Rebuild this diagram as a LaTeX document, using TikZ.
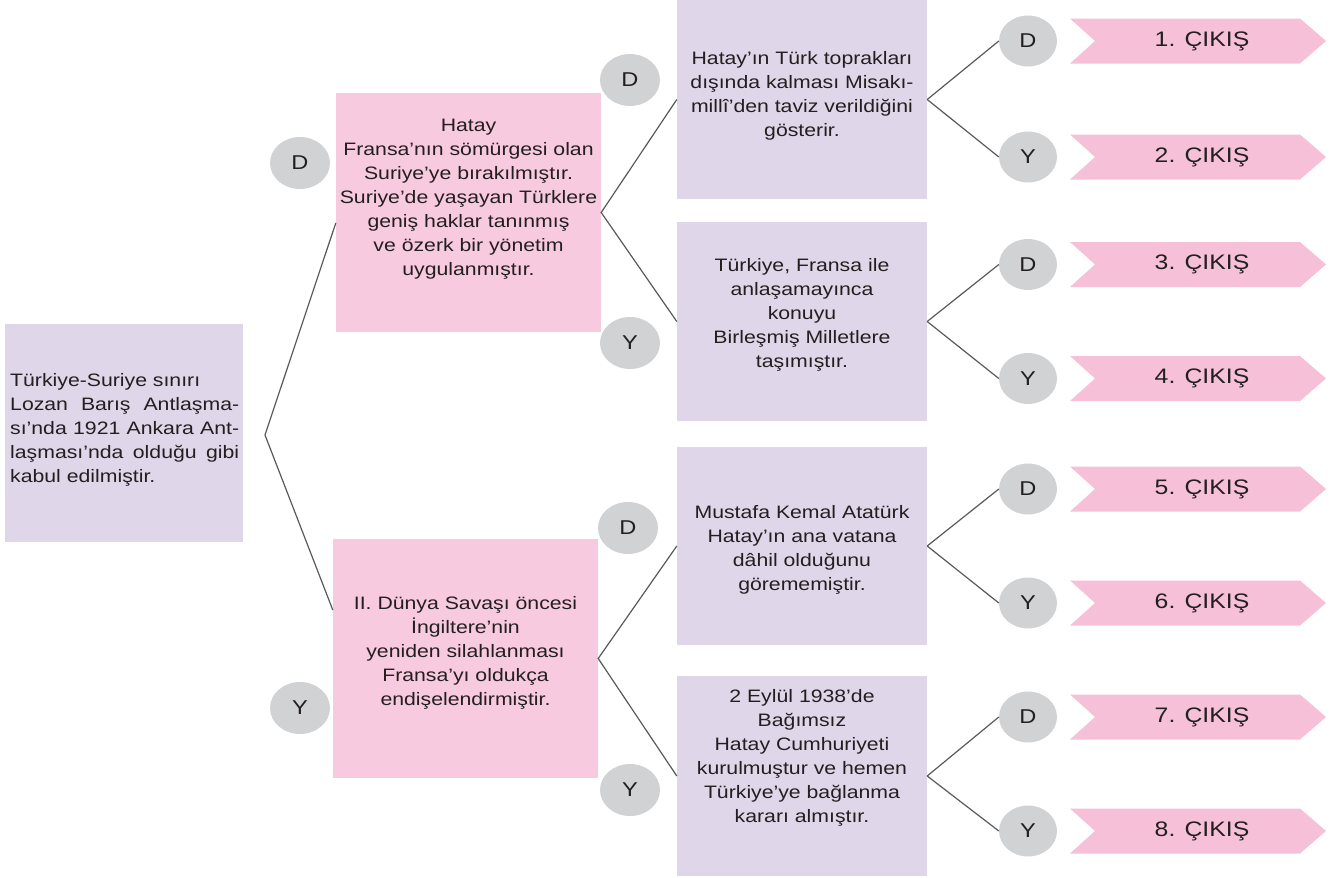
\documentclass[tikz,border=0pt]{standalone}
\usepackage{fontspec}
\setmainfont{Liberation Sans}[FakeStretch=1.18]
\usetikzlibrary{shapes.geometric}
\definecolor{lav}{RGB}{223,214,233}
\definecolor{pnk}{RGB}{248,202,223}
\definecolor{chev}{RGB}{245,192,216}
\definecolor{circ}{RGB}{209,210,212}
\definecolor{ink}{RGB}{35,31,32}
\definecolor{lin}{RGB}{88,89,91}
\begin{document}
\begin{tikzpicture}[x=1pt,y=-1pt,
  every node/.style={font=\fontsize{18}{24}\selectfont, text=ink, inner sep=0pt},
  lavbox/.style={rectangle, fill=lav},
  pinkbox/.style={rectangle, fill=pnk},
  ctext/.style={align=center},
  yn/.style={ellipse, fill=circ, minimum width=60pt, minimum height=52pt, font=\fontsize{20}{24}\selectfont},
  yn3/.style={ellipse, fill=circ, minimum width=58pt, minimum height=51pt, font=\fontsize{20}{24}\selectfont},
  outtxt/.style={font=\fontsize{21}{24}\selectfont},
  conn/.style={draw=lin, line width=1.2pt}]
\useasboundingbox (0,0) rectangle (1339,878);

% root
\node[lavbox, minimum width=238pt, minimum height=218pt] (root) at (124,433) {};
\node[anchor=west, align=left] (roott) at (10,430) {Türkiye-Suriye sınırı\\
\makebox[229pt][s]{Lozan Barış Antlaşma-}\\
\makebox[229pt][s]{sı’nda 1921 Ankara Ant-}\\
\makebox[229pt][s]{laşması’nda olduğu gibi}\\
kabul edilmiştir.};
\coordinate (rv) at (265,435);

% level 1
\node[pinkbox, minimum width=265pt, minimum height=239pt] (b1) at (468.5,212.5) {};
\node[ctext] (b1t) at (468.5,199) {Hatay\\ Fransa’nın sömürgesi olan\\ Suriye’ye bırakılmıştır.\\ Suriye’de yaşayan Türklere\\ geniş haklar tanınmış\\ ve özerk bir yönetim\\ uygulanmıştır.};
\node[pinkbox, minimum width=265pt, minimum height=239pt] (b2) at (465.5,658.5) {};
\node[ctext] (b2t) at (465.5,653) {II. Dünya Savaşı öncesi\\ İngiltere’nin\\ yeniden silahlanması\\ Fransa’yı oldukça\\ endişelendirmiştir.};

\node[yn] (d1) at (300,163) {D};
\node[yn] (y1) at (300,708) {Y};

\draw[conn] ([yshift=-10.5pt]b1.west) -- (rv) -- ([yshift=48.5pt]b2.west);

% level 2
\node[lavbox, minimum width=250pt, minimum height=199pt] (bA) at (802,99.5) {};
\node[ctext] (bAt) at (802,96) {Hatay’ın Türk toprakları\\ dışında kalması Misakı-\\ millî’den taviz verildiğini\\ gösterir.};
\node[lavbox, minimum width=250pt, minimum height=199pt] (bB) at (802,321.5) {};
\node[ctext] (bBt) at (802,315) {Türkiye, Fransa ile\\ anlaşamayınca\\ konuyu\\ Birleşmiş Milletlere\\ taşımıştır.};
\node[lavbox, minimum width=250pt, minimum height=198pt] (bC) at (802,546) {};
\node[ctext] (bCt) at (802,550) {Mustafa Kemal Atatürk\\ Hatay’ın ana vatana\\ dâhil olduğunu\\ görememiştir.};
\node[lavbox, minimum width=250pt, minimum height=200pt] (bD) at (802,776) {};
\node[ctext] (bDt) at (802,758) {2 Eylül 1938’de\\ Bağımsız\\ Hatay Cumhuriyeti\\ kurulmuştur ve hemen\\ Türkiye’ye bağlanma\\ kararı almıştır.};

\node[yn] (d2) at (630,80) {D};
\node[yn] (y2) at (630,343) {Y};
\node[yn] (d3) at (628,528) {D};
\node[yn] (y3) at (630,790) {Y};

\draw[conn] (bA.west) -- (b1.east) -- (bB.west);
\draw[conn] (bC.west) -- (b2.east) -- (bD.west);

% level 3
\foreach \i/\yy/\l/\bx in {1/41/D/bA, 2/157/Y/bA, 3/264.5/D/bB, 4/378.5/Y/bB, 5/489/D/bC, 6/603/Y/bC, 7/717/D/bD, 8/831/Y/bD}{
  \node[yn3] (c\i) at (1028,\yy) {\l};
  \fill[chev] (1070,\yy-22.5) -- (1300,\yy-22.5) -- (1326,\yy) -- (1300,\yy+22.5) -- (1070,\yy+22.5) -- (1095,\yy) -- cycle;
  \node[outtxt] (o\i) at (1202,\yy) {\i. ÇIKIŞ};
  \draw[conn] (\bx.east) -- (c\i.west);
}
\end{tikzpicture}
\end{document}
